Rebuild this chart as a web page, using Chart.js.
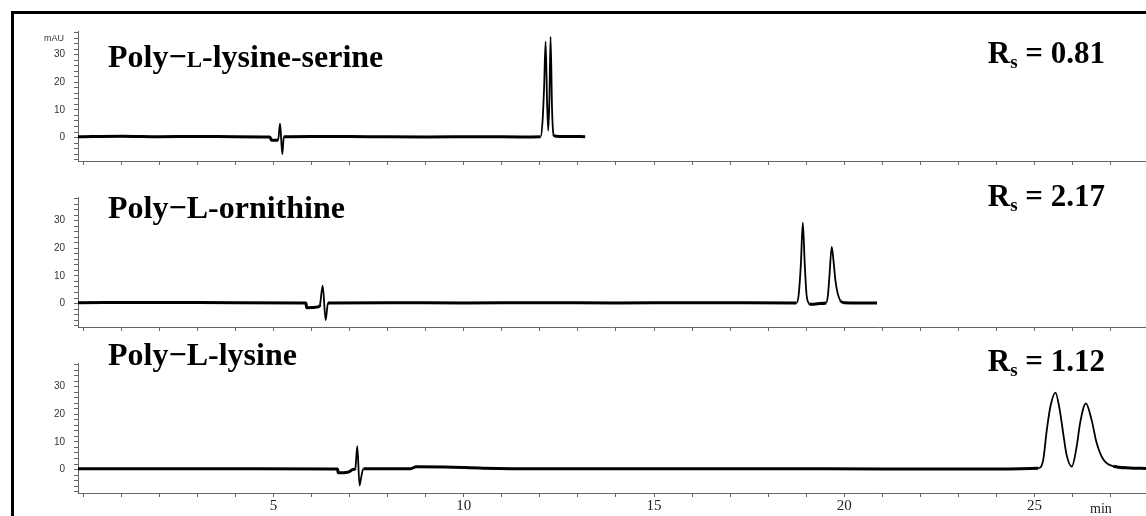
<!DOCTYPE html>
<html>
<head>
<meta charset="utf-8">
<script src="https://cdn.jsdelivr.net/npm/chart.js@4"></script>
<style>
  html, body { margin: 0; padding: 0; background: #fff; }
  #wrap { position: relative; width: 1146px; height: 516px; overflow: hidden; background: #fff; }
  #wrap canvas { position: absolute; left: 0; top: 0; }
  #frame { position: absolute; left: 11px; top: 11px; width: 1200px; height: 600px;
           border-left: 3px solid #000; border-top: 3px solid #000; }
</style>
</head>
<body>
<div id="wrap">
  <div id="frame"></div>
  <canvas id="c1" width="1146" height="516"></canvas>
  <canvas id="c2" width="1146" height="516"></canvas>
  <canvas id="c3" width="1146" height="516"></canvas>
</div>
<script>
// ---- axis settings (minutes / mAU) ----
const timeRange = [-0.14, 27.93];
const signalRange = [-8.5, 38.6];
const xTickLabels = [5, 10, 15, 20, 25];
const yTickLabels = [0, 10, 20, 30];

// ---- panel titles and resolutions ----
const panelTitles = ['Poly\u2212L-lysine-serine', 'Poly\u2212L-ornithine', 'Poly\u2212L-lysine'];
const resolutions = ['0.81', '2.17', '1.12'];

// ---- Poly-L-lysine-serine trace ----
const lysSerTime = [-0.14, 1.0, 2.0, 3.0, 4.0, 4.9, 4.95, 5.12, 5.17, 5.23, 5.27, 6.0, 7.5, 9.0, 10.5, 11.5,
  12.02, 12.07, 12.11, 12.15, 12.19, 12.22, 12.25, 12.28, 12.32, 12.36, 12.42, 12.8, 13.19];
const lysSerSignal = [0.3, 0.5, 0.3, 0.4, 0.3, 0.2, -1.0, -1.0, 5.0, -6.0, 0.3, 0.4, 0.3, 0.2, 0.3, 0.2,
  0.3, 6.0, 18.0, 34.7, 12.0, 2.5, 14.0, 36.5, 10.0, 1.0, 0.5, 0.4, 0.3];

// ---- Poly-L-ornithine trace ----
const ornTime = [-0.14, 2.0, 4.0, 5.85, 5.87, 6.18, 6.22, 6.29, 6.37, 6.43, 8.0, 10.0, 12.0, 14.0, 16.0,
  18.74, 18.80, 18.86, 18.91, 18.96, 19.01, 19.08, 19.15, 19.35, 19.52, 19.57, 19.61, 19.67, 19.72, 19.77,
  19.83, 19.90, 20.0, 20.4, 20.86];
const ornSignal = [0.3, 0.4, 0.3, 0.2, -1.5, -1.2, -0.5, 6.5, -6.0, 0.2, 0.3, 0.2, 0.3, 0.2, 0.3,
  0.2, 3.0, 14.5, 29.3, 14.5, 3.0, 0.0, -0.3, 0.0, 0.2, 3.0, 10.0, 20.5, 15.0, 8.0,
  3.5, 1.0, 0.3, 0.2, 0.2];

// ---- Poly-L-lysine trace ----
const lysTime = [-0.14, 2.0, 4.0, 6.68, 6.70, 6.95, 7.09, 7.15, 7.20, 7.26, 7.30, 7.36, 8.6, 8.75, 9.5,
  10.5, 12.0, 15.0, 18.0, 21.0, 24.0, 25.10, 25.23, 25.32, 25.42, 25.55, 25.66, 25.75, 25.84, 25.98,
  26.11, 26.20, 26.35, 26.50, 26.63, 26.81, 27.07, 27.5, 27.93];
const lysSignal = [0.3, 0.3, 0.3, 0.2, -1.2, -1.0, 0.0, 0.5, 8.5, -5.8, -3.0, 0.3, 0.3, 1.0, 0.9,
  0.5, 0.3, 0.3, 0.3, 0.2, 0.2, 0.5, 3.6, 14.0, 23.0, 27.9, 21.8, 13.5, 5.5, 1.1,
  8.5, 17.0, 24.0, 18.0, 9.8, 3.6, 1.2, 0.6, 0.4];

const AXIS_COLOR = '#666';
const SERIF = '"Liberation Serif", "Times New Roman", serif';
const SANS = '"Liberation Sans", Arial, sans-serif';

function drawTitle(ctx, x, y, idx) {
  ctx.save();
  ctx.fillStyle = '#000';
  ctx.textBaseline = 'alphabetic';
  ctx.textAlign = 'left';
  let parts;
  if (idx === 0) {
    parts = [['Poly\u2212', 32], ['L', 23], ['-lysine-serine', 32]];
  } else {
    parts = [[panelTitles[idx], 32]];
  }
  let cx = x;
  for (const [t, s] of parts) {
    ctx.font = 'bold ' + s + 'px ' + SERIF;
    ctx.fillText(t, cx, y);
    cx += ctx.measureText(t).width;
  }
  ctx.restore();
}

function drawRs(ctx, right, y, idx) {
  ctx.save();
  ctx.fillStyle = '#000';
  ctx.textBaseline = 'alphabetic';
  ctx.textAlign = 'left';
  const big = 'bold 31px ' + SERIF, small = 'bold 19px ' + SERIF;
  const tail = ' = ' + resolutions[idx];
  ctx.font = big; const wR = ctx.measureText('R').width; const wT = ctx.measureText(tail).width;
  ctx.font = small; const wS = ctx.measureText('s').width;
  let x = right - (wR + wS + wT);
  ctx.font = big; ctx.fillText('R', x, y); x += wR;
  ctx.font = small; ctx.fillText('s', x, y + 5); x += wS;
  ctx.font = big; ctx.fillText(tail, x, y);
  ctx.restore();
}

function makePanel(id, idx, time, signal, top, bottom, isLast, titleY, rsY) {
  const data = time.map((t, i) => ({ x: t, y: signal[i] }));
  const yWidth = 40;
  const xHeight = isLast ? 23 : 6;
  const annot = {
    id: 'annot' + idx,
    afterDraw(chart) {
      const ctx = chart.ctx;
      drawTitle(ctx, 108, titleY, idx);
      drawRs(ctx, 1105, rsY, idx);
      if (idx === 0) {
        ctx.save();
        ctx.font = '9px ' + SANS; ctx.fillStyle = '#333';
        ctx.textAlign = 'right'; ctx.textBaseline = 'alphabetic';
        ctx.fillText('mAU', 64, 41);
        ctx.restore();
      }
      if (isLast) {
        ctx.save();
        ctx.font = '14px ' + SERIF; ctx.fillStyle = '#222';
        ctx.textAlign = 'left'; ctx.textBaseline = 'alphabetic';
        ctx.fillText('min', 1090, 513);
        ctx.restore();
      }
    }
  };
  return new Chart(document.getElementById(id), {
    type: 'line',
    data: { datasets: [{
      data,
      borderColor: '#000',
      borderWidth: 1.8,
      pointRadius: 0,
      cubicInterpolationMode: 'monotone',
      fill: false,
      segment: {
        borderWidth: c => (Math.abs(c.p0.parsed.y) <= 1.5 && Math.abs(c.p1.parsed.y) <= 1.5) ? 3 : 1.8
      }
    }] },
    options: {
      responsive: false,
      animation: false,
      devicePixelRatio: 1,
      layout: { padding: { left: 78 - yWidth, right: 0, top: top, bottom: 516 - bottom - xHeight } },
      plugins: { legend: { display: false }, tooltip: { enabled: false } },
      scales: {
        x: {
          type: 'linear',
          min: timeRange[0], max: timeRange[1],
          afterFit: s => { s.height = xHeight; },
          border: { display: true, color: AXIS_COLOR, width: 1 },
          grid: { display: true, drawOnChartArea: false, drawTicks: true, tickLength: 4, color: AXIS_COLOR },
          ticks: {
            stepSize: 1, autoSkip: false, includeBounds: false, maxRotation: 0, padding: 0,
            color: '#222', font: { family: SERIF, size: 15 },
            callback: v => (isLast && xTickLabels.includes(v)) ? String(v) : ''
          }
        },
        y: {
          min: signalRange[0], max: signalRange[1],
          afterFit: s => { s.width = yWidth; },
          border: { display: true, color: AXIS_COLOR, width: 1 },
          grid: { display: true, drawOnChartArea: false, drawTicks: true, tickLength: 4, color: AXIS_COLOR },
          ticks: {
            stepSize: 2, autoSkip: false, includeBounds: false, padding: 9,
            color: '#333', font: { family: SANS, size: 10 },
            callback: v => yTickLabels.includes(v) ? String(v) : ''
          }
        }
      }
    },
    plugins: [annot]
  });
}

makePanel('c1', 0, lysSerTime, lysSerSignal, 31, 161, false, 67, 63);
makePanel('c2', 1, ornTime, ornSignal, 197, 327, false, 218, 206);
makePanel('c3', 2, lysTime, lysSignal, 363, 493, true, 365, 371);
</script>
</body>
</html>
